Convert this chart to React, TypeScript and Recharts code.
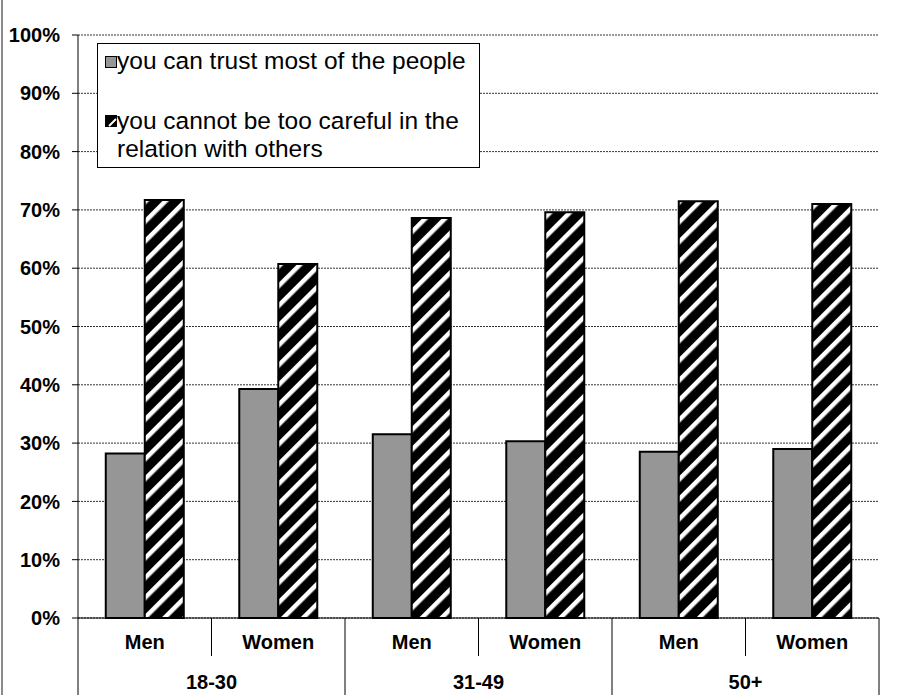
import React from "react"
import { BarChart, Bar, XAxis, YAxis, CartesianGrid, Legend } from "recharts"

const ageGroups = ["18-30", "31-49", "50+"]
const sexes = ["Men", "Women"]
const trustMost = [28.2, 39.3, 31.5, 30.3, 28.5, 29.0]
const tooCareful = [71.7, 60.7, 68.6, 69.6, 71.5, 71.0]
const yTicks = [0, 10, 20, 30, 40, 50, 60, 70, 80, 90, 100]

const seriesNames = {
    trust: "you can trust most of the people",
    careful: "you cannot be too careful in the relation with others",
}

const rows = ageGroups.flatMap((group, g) =>
    sexes.map((sex, s) => ({
        group,
        sex,
        trust: trustMost[g * sexes.length + s],
        careful: tooCareful[g * sexes.length + s],
    }))
)

const WIDTH = 910
const HEIGHT = 695
const MARGIN = { top: 35, right: 31, bottom: 0, left: 0 }
const Y_AXIS_W = 78
const X_AXIS_H = 77
const HALF_BAND = (WIDTH - MARGIN.right - Y_AXIS_W) / rows.length / 2
const FONT = "Arial, 'Liberation Sans', sans-serif"

// two-level category axis: sex label on top, age group below, with separators
function CategoryTick(props: any) {
    const { x, y, payload } = props
    const i = payload.index as number
    const row = rows[i]
    const isGroupStart = i % sexes.length === 0
    const bottom = y + X_AXIS_H
    return (
        <g>
            <line x1={x - HALF_BAND} x2={x - HALF_BAND} y1={y} y2={isGroupStart ? bottom : y + 38} stroke="#000" />
            {i === rows.length - 1 && (
                <line x1={x + HALF_BAND} x2={x + HALF_BAND} y1={y} y2={bottom} stroke="#000" />
            )}
            <text x={x} y={y + 31} textAnchor="middle" fontFamily={FONT} fontSize={20} fontWeight="bold" fill="#000">
                {row.sex}
            </text>
            {isGroupStart && (
                <text x={x + HALF_BAND} y={y + 71} textAnchor="middle" fontFamily={FONT} fontSize={20} fontWeight="bold" fill="#000">
                    {row.group}
                </text>
            )}
        </g>
    )
}

function LegendBox() {
    return (
        <div
            style={{
                position: "relative",
                width: 383,
                height: 125,
                boxSizing: "border-box",
                border: "1px solid #000",
                background: "#fff",
                fontFamily: FONT,
                fontSize: 24.5,
                lineHeight: "28px",
                color: "#000",
            }}
        >
            <div style={{ position: "absolute", left: 7, top: 12, width: 10, height: 10, background: "#969696", border: "1px solid #000" }} />
            <div style={{ position: "absolute", left: 19, top: 3, whiteSpace: "nowrap" }}>{seriesNames.trust}</div>
            <svg style={{ position: "absolute", left: 7, top: 71 }} width={12} height={12}>
                <rect x={0.5} y={0.5} width={11} height={11} fill="#000" stroke="#000" />
                <line x1={4} y1={11} x2={11} y2={4} stroke="#fff" strokeWidth={2} />
            </svg>
            <div style={{ position: "absolute", left: 19, top: 63, width: 360 }}>{seriesNames.careful}</div>
        </div>
    )
}

export default function App() {
    return (
        <div style={{ position: "absolute", left: 0, top: 0, width: WIDTH, height: HEIGHT, background: "#fff" }}>
            <div style={{ position: "absolute", left: 1, top: 0, width: 2, height: HEIGHT, background: "#8a8a8a" }} />
            <BarChart
                width={WIDTH}
                height={HEIGHT}
                data={rows}
                margin={MARGIN}
                barCategoryGap="20.8%"
                barGap={0}
            >
                <defs>
                    <pattern
                        id="carefulHatch"
                        patternUnits="userSpaceOnUse"
                        width={14}
                        height={14}
                        patternTransform="rotate(-45)"
                    >
                        <rect width={14} height={14} fill="#000" />
                        <rect y={5} width={14} height={4.5} fill="#fff" />
                    </pattern>
                </defs>
                <CartesianGrid vertical={false} stroke="#333" strokeDasharray="2 1" />
                <XAxis
                    dataKey="sex"
                    height={X_AXIS_H}
                    interval={0}
                    tickLine={false}
                    tickSize={0}
                    tickMargin={0}
                    axisLine={{ stroke: "#000" }}
                    tick={<CategoryTick />}
                />
                <YAxis
                    width={Y_AXIS_W}
                    domain={[0, 100]}
                    ticks={yTicks}
                    interval={0}
                    tickFormatter={(v: number) => `${v}%`}
                    tickSize={6}
                    tickMargin={12}
                    axisLine={{ stroke: "#000" }}
                    tickLine={{ stroke: "#000" }}
                    tick={{ fontFamily: FONT, fontSize: 20, fontWeight: "bold", fill: "#000" }}
                />
                <Legend
                    layout="vertical"
                    align="center"
                    verticalAlign="middle"
                    content={() => <LegendBox />}
                    wrapperStyle={{ left: 97, top: 43, width: 383, height: 125 }}
                />
                <Bar dataKey="trust" name={seriesNames.trust} fill="#969696" stroke="#000" strokeWidth={2} isAnimationActive={false} />
                <Bar dataKey="careful" name={seriesNames.careful} fill="url(#carefulHatch)" stroke="#000" strokeWidth={2} isAnimationActive={false} />
            </BarChart>
        </div>
    )
}
